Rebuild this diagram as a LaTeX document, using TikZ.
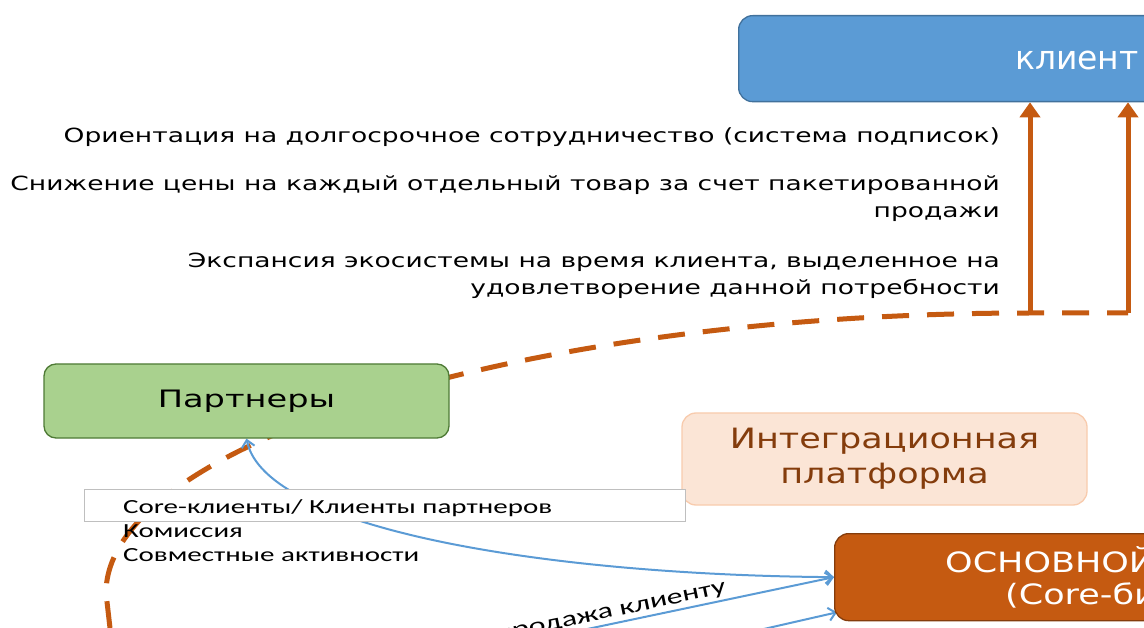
\documentclass[tikz,border=0pt]{standalone}
\usepackage{fontspec}
\setmainfont{DejaVu Sans}
\newfontfamily\notefont[FakeStretch=1.36]{DejaVu Sans}
\newfontfamily\partnerfont[FakeStretch=1.4]{DejaVu Sans}
\newfontfamily\bigfont[FakeStretch=1.25]{DejaVu Sans}
\newfontfamily\klientfont{DejaVu Sans}
\newfontfamily\listfont[FakeStretch=1.45]{Carlito}
\newfontfamily\salefont[FakeStretch=1.45]{Carlito}
\usetikzlibrary{arrows.meta,backgrounds}

\definecolor{clientblue}{HTML}{5B9BD5}
\definecolor{clientedge}{HTML}{41719C}
\definecolor{partnergreen}{HTML}{A9D18E}
\definecolor{partneredge}{HTML}{4E7A35}
\definecolor{platformpeach}{HTML}{FBE5D6}
\definecolor{platformedge}{HTML}{F8CBAD}
\definecolor{platformtext}{HTML}{843C0C}
\definecolor{coreorange}{HTML}{C55A11}
\definecolor{coreedge}{HTML}{843C0C}
\definecolor{flowblue}{HTML}{5B9BD5}

\begin{document}
\begin{tikzpicture}[x=1pt, y=-1pt,
    box/.style={draw, rounded corners=14pt, line width=1.3pt, inner sep=0pt},
    note/.style={align=right, inner sep=0pt, font=\notefont\fontsize{19.5}{27}\selectfont},
    boxtext/.style={text=white, inner sep=0pt, anchor=west, font=\bigfont\fontsize{28}{35}\selectfont},
    dashline/.style={draw=coreorange, line width=5pt, dash pattern=on 27pt off 18pt},
    uparrow/.style={draw=coreorange, line width=5pt, -{Triangle[width=20pt,length=15pt]}},
    flow/.style={draw=flowblue, line width=2pt},
    tip/.tip={Straight Barb[length=7pt,width=13pt]}]

    \useasboundingbox (0,0) rectangle (1144,628);
    \clip (0,0) rectangle (1144,628);

    % Clients
    \node[box, fill=clientblue, draw=clientedge, minimum width=600pt, minimum height=86pt, anchor=north west] (klient) at (738,15) {};
    \node[text=white, inner sep=0pt, anchor=west, font=\klientfont\fontsize{33}{40}\selectfont] (klientText) at (1015,60) {клиент};

    % Notes
    \node[note, anchor=east] (noteOrient) at (1000,137) {Ориентация на долгосрочное сотрудничество (система подписок)};
    \node[note, anchor=east] (notePrice) at (1000,199) {Снижение цены на каждый отдельный товар за счет пакетированной\\продажи};
    \node[note, anchor=east] (noteExpand) at (1000,276) {Экспансия экосистемы на время клиента, выделенное на\\удовлетворение данной потребности};

    % Partners
    \node[box, rounded corners=12pt, fill=partnergreen, draw=partneredge, minimum width=405pt, minimum height=74pt, font=\partnerfont\fontsize{24}{28}\selectfont] (partners) at (246.5,401) {Партнеры};

    % Platform
    \node[box, fill=platformpeach, draw=platformedge, minimum width=405pt, minimum height=92pt, align=center, text=platformtext, font=\bigfont\fontsize{28}{35}\selectfont] (platform) at (884.5,459) {Интеграционная\\платформа};

    % Core business
    \node[box, fill=coreorange, draw=coreedge, minimum width=405pt, minimum height=87pt, anchor=north west] (core) at (834,533) {};
    \node[boxtext] (coreTitle) at (945,560) {ОСНОВНОЙ};
    \node[boxtext] (coreSub) at (1005,595) {(Core-би};

    % Flows box
    \node[draw=gray!50, fill=white, line width=0.8pt, minimum width=601pt, minimum height=32pt, inner sep=0pt] (flows) at (384.5,505) {};
    \node[anchor=base west, align=left, inner sep=0pt, font=\listfont\fontsize{20}{24}\selectfont] (flowList) at (123,561) {Core-клиенты/ Клиенты партнеров\\Комиссия\\Совместные активности};

    % Connectors
    \begin{scope}[on background layer]
        \coordinate (arcStart) at (110,628);
        \coordinate (turnA) at (1030,313);
        \coordinate (turnB) at (1128,313);
        \draw[dashline] (arcStart) -- (106,593) .. controls (106,445) and (519,313) .. (turnA) -- (turnB);
        \draw[uparrow] (turnA) -- (turnA |- klient.south);
        \draw[uparrow] (turnB) -- (turnB |- klient.south);

        \draw[flow, tip-tip] (partners.south) .. controls (265,530) and (550,575) .. (core.west);
        \coordinate (saleStart) at (440,660);
        \draw[flow, -tip] (saleStart) -- node[sloped, above, pos=0.44, inner sep=2pt, font=\salefont\fontsize{22}{26}\selectfont] (saleLabel) {продажа клиенту} (core.west);
        \coordinate (supplyStart) at (628,660);
        \draw[flow, -tip] (supplyStart) -- ([shift={(3pt,9pt)}]core.south west);
    \end{scope}

\end{tikzpicture}
\end{document}
